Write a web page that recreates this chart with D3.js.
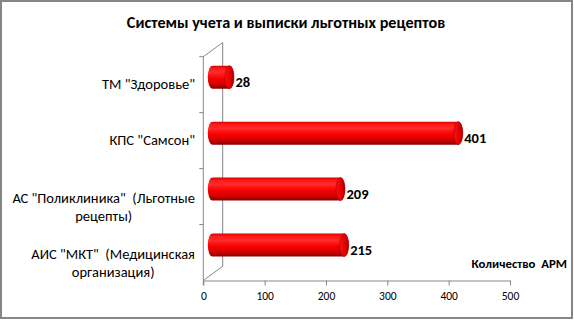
<!DOCTYPE html>
<html>
<head>
<meta charset="utf-8">
<script src="https://cdn.jsdelivr.net/npm/d3@7"></script>
<style>
  body { margin: 0; background: #fff; }
  svg { display: block; font-family: Carlito, Lato, 'Open Sans', sans-serif; }
</style>
</head>
<body>
<div class="chart"></div>
<script>
// data, top to bottom as drawn
var categories = [
  'ТМ "Здоровье"',
  'КПС "Самсон"',
  'АС "Поликлиника"  (Льготные\nрецепты)',
  'АИС "МКТ"  (Медицинская\nорганизация)'
];
var values = [28, 401, 209, 215];
var xTicks = [0, 100, 200, 300, 400, 500];
var title = 'Системы учета и выписки льготных рецептов';
var xTitle = 'Количество  АРМ';

var width = 574,
  height = 320;

var depthX = 19.4, depthY = -14.2;   // 3d wall offset
var barOffX = 9, barOffY = -7.5;     // bars sit mid-depth
var barH = 23, capRx = 4.5;
var axisColor = '#868686';

var svg = d3.select('.chart')
  .append('svg')
  .attr('width', width)
  .attr('height', height);

// outer frame
svg.append('rect')
  .attr('x', 1).attr('y', 1)
  .attr('width', 571).attr('height', 317)
  .attr('fill', '#fff')
  .attr('stroke', axisColor)
  .attr('stroke-width', 2);

var x = d3.scaleLinear()
  .domain([0, 500])
  .range([203.3, 510]);

var y = d3.scaleBand()
  .domain(categories)
  .range([56.7, 280.5])
  .padding(0);

// gradients
var defs = svg.append('defs');
var bodyGrad = defs.append('linearGradient')
  .attr('id', 'bodyGrad')
  .attr('x1', 0).attr('y1', 0).attr('x2', 0).attr('y2', 1);
[[0, '#d40000'], [0.12, '#ff1a1a'], [0.3, '#ff2a2a'], [0.55, '#f80000'], [0.8, '#d20000'], [1, '#8a0000']]
  .forEach(function (s) {
    bodyGrad.append('stop').attr('offset', s[0]).attr('stop-color', s[1]);
  });
var capGrad = defs.append('linearGradient')
  .attr('id', 'capGrad')
  .attr('x1', 0).attr('y1', 0).attr('x2', 1).attr('y2', 0);
[[0, '#ff1010'], [0.6, '#e00000'], [1, '#a00000']]
  .forEach(function (s) {
    capGrad.append('stop').attr('offset', s[0]).attr('stop-color', s[1]);
  });

// walls / axes
var x0 = x(0), yTop = y.range()[0], yBot = y.range()[1];
var walls = svg.append('g')
  .attr('fill', 'none')
  .attr('stroke', axisColor)
  .attr('stroke-width', 1);

walls.append('line') // front category axis
  .attr('x1', x0).attr('y1', yTop).attr('x2', x0).attr('y2', yBot + 5);
walls.append('line') // back wall edge
  .attr('x1', x0 + depthX).attr('y1', yTop + depthY)
  .attr('x2', x0 + depthX).attr('y2', yBot + depthY);
walls.append('line')
  .attr('x1', x0).attr('y1', yTop).attr('x2', x0 + depthX).attr('y2', yTop + depthY);
walls.append('line')
  .attr('x1', x0).attr('y1', yBot).attr('x2', x0 + depthX).attr('y2', yBot + depthY);

// category ticks at band edges
walls.selectAll('.ctick')
  .data(categories)
  .enter().append('line')
  .attr('x1', x0 - 4).attr('x2', x0)
  .attr('y1', function (d) { return y(d); })
  .attr('y2', function (d) { return y(d); });

// value axis
var xAxis = d3.axisBottom(x)
  .tickValues(xTicks)
  .tickSize(5)
  .tickSizeOuter(0)
  .tickPadding(6);

var xaxis = svg.append('g')
  .attr('transform', 'translate(0,' + yBot + ')')
  .call(xAxis);
xaxis.select('.domain').attr('stroke', axisColor);
xaxis.selectAll('.tick line').attr('stroke', axisColor);
xaxis.selectAll('.tick text')
  .attr('fill', '#000')
  .style('font-size', '11.5px')
  .style('font-family', 'Carlito, Lato, sans-serif');

// cylinders
var bars = svg.append('g');
categories.forEach(function (c, i) {
  var cy = y(c) + y.bandwidth() / 2 + barOffY;
  var xa = x(0) + barOffX, xb = x(values[i]) + barOffX;
  var top = cy - barH / 2, bot = cy + barH / 2, ry = barH / 2;
  var p = 'M' + xa + ',' + top +
    'L' + xb + ',' + top +
    'A' + capRx + ',' + ry + ' 0 0 1 ' + xb + ',' + bot +
    'L' + xa + ',' + bot +
    'A' + capRx + ',' + ry + ' 0 0 1 ' + xa + ',' + top + 'Z';
  bars.append('path')
    .attr('d', p)
    .attr('fill', 'url(#bodyGrad)');
  bars.append('ellipse')
    .attr('cx', xb).attr('cy', cy)
    .attr('rx', capRx).attr('ry', ry)
    .attr('fill', 'url(#capGrad)')
    .attr('stroke', '#b00000')
    .attr('stroke-width', 0.6);

  bars.append('text')
    .attr('x', xb + capRx + 1.5)
    .attr('y', cy + 9.5)
    .style('font-size', '14.5px')
    .style('font-weight', 'bold')
    .text(values[i]);
});

// category labels (right edge at 195, lines centred on each other)
var labels = svg.append('g')
  .style('font-size', '14.5px')
  .attr('fill', '#000');
categories.forEach(function (c) {
  var lines = c.split('\n');
  var bc = y(c) + y.bandwidth() / 2;
  var t = labels.append('text')
    .attr('text-anchor', 'middle')
    .style('white-space', 'pre');
  lines.forEach(function (ln, j) {
    var mid = lines.length === 1 ? bc - 1 : bc + 1.5 + j * 17.5;
    t.append('tspan').attr('x', 0).attr('y', mid + 5).text(ln);
  });
  var w = t.node().getBBox().width;
  t.selectAll('tspan').attr('x', 195 - w / 2);
});

// titles
svg.append('text')
  .attr('x', 286).attr('y', 28)
  .attr('text-anchor', 'middle')
  .style('font-size', '16.2px')
  .style('font-weight', 'bold')
  .text(title);

svg.append('text')
  .attr('x', 567).attr('y', 267.5)
  .attr('text-anchor', 'end')
  .style('font-size', '12.8px')
  .style('font-weight', 'bold')
  .style('white-space', 'pre')
  .text(xTitle);
</script>
</body>
</html>
